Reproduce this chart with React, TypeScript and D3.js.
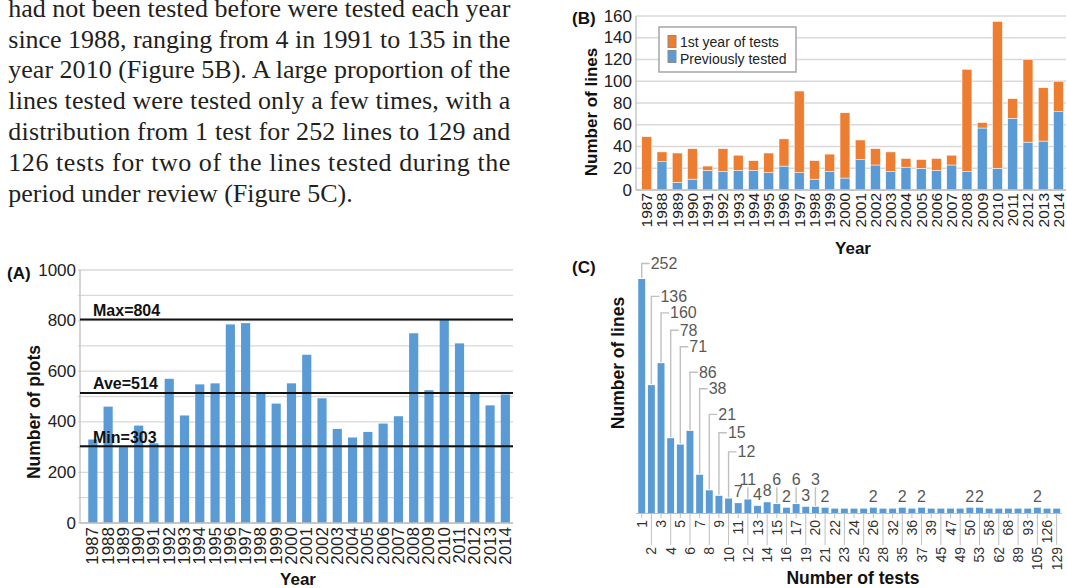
import React from 'react';
import * as d3 from 'd3';

// ---------- Paragraph text ----------
const paragraphLines = [
  'had not been tested before were tested each year',
  'since 1988, ranging from 4 in 1991 to 135 in the',
  'year 2010 (Figure 5B). A large proportion of the',
  'lines tested were tested only a few times, with a',
  'distribution from 1 test for 252 lines to 129 and',
  '126 tests for two of the lines tested during the',
  'period under review (Figure 5C).',
];

// ---------- Shared categories ----------
const years = [
  '1987', '1988', '1989', '1990', '1991', '1992', '1993', '1994', '1995', '1996',
  '1997', '1998', '1999', '2000', '2001', '2002', '2003', '2004', '2005', '2006',
  '2007', '2008', '2009', '2010', '2011', '2012', '2013', '2014',
];

// ---------- Panel A ----------
const plotsPerYear = [
  330, 460, 303, 385, 315, 570, 425, 548, 552, 785,
  790, 510, 472, 552, 665, 493, 372, 338, 360, 393,
  422, 750, 525, 804, 710, 515, 465, 508,
];
const refLabels = ['Max=804', 'Ave=514', 'Min=303'];
const refValues = [804, 514, 303];
const yTicksA = [0, 200, 400, 600, 800, 1000];

// ---------- Panel B ----------
const previouslyTested = [
  0, 26, 7, 10, 18, 17, 18, 18, 16, 22,
  16, 10, 17, 11, 28, 23, 17, 21, 20, 18,
  23, 17, 57, 20, 66, 44, 45, 72,
];
const firstYearOfTests = [
  49, 9, 27, 28, 4, 21, 14, 9, 18, 25,
  75, 17, 16, 60, 18, 15, 18, 8, 8, 11,
  9, 94, 5, 135, 18, 76, 49, 28,
];
const seriesNamesB = ['1st year of tests', 'Previously tested'];
const yTicksB = [0, 20, 40, 60, 80, 100, 120, 140, 160];

// ---------- Panel C ----------
const testCounts = [
  '1', '2', '3', '4', '5', '6', '7', '8', '9', '10', '11', '12', '13', '14', '15',
  '16', '17', '19', '20', '21', '22', '23', '24', '25', '26', '28', '32', '35', '36',
  '37', '39', '45', '47', '49', '50', '53', '58', '62', '68', '89', '93', '105', '126', '129',
];
const linesPerCount = [
  252, 136, 160, 78, 71, 86, 38, 21, 15, 12, 7, 11, 4, 8, 6,
  2, 6, 3, 3, 2, 1, 1, 1, 1, 2, 1, 1, 2, 1,
  2, 1, 1, 1, 1, 2, 2, 1, 1, 1, 1, 1, 2, 1, 1,
];
// callout label levels (in data units) for the first bars (hooked leaders)
const hookCalloutLevels = [269, 233, 215, 196, 178, 150, 132, 104, 84, 63];
// bars whose label is raised with a vertical leader
const raisedCalloutIdx = [11, 14, 16, 18];
const raisedCalloutLevel = 33;

const BLUE = '#5B9BD5';
const ORANGE = '#ED7D31';
const GRID = '#d9d9d9';
const AXIS = '#bfbfbf';
const SANS = '"Liberation Sans", Arial, Helvetica, sans-serif';
const SERIF = '"Liberation Serif", "Times New Roman", serif';

function PanelA() {
  const x = d3.scaleBand<string>().domain(years).range([85.2, 513]).paddingInner(0.4).paddingOuter(0.2);
  const y = d3.scaleLinear().domain([0, 1000]).range([523, 270]);
  const left = 80, right = 513;
  return (
    <g fontFamily={SANS}>
      {y.ticks(10).map((t) => (
        <line key={'g' + t} x1={left - 2} x2={right} y1={y(t)} y2={y(t)} stroke={GRID} strokeWidth={1.3} />
      ))}
      <line x1={left} x2={left} y1={y(1000)} y2={y(0)} stroke={AXIS} strokeWidth={1.3} />
      {plotsPerYear.map((v, i) => (
        <rect key={'b' + i} x={x(years[i])} y={y(v)} width={x.bandwidth()} height={y(0) - y(v)} fill={BLUE} />
      ))}
      <line x1={left} x2={right} y1={y(0)} y2={y(0)} stroke={AXIS} strokeWidth={1.5} />
      {refValues.map((v, i) => (
        <g key={'r' + i}>
          <line x1={left} x2={right} y1={y(v)} y2={y(v)} stroke="#111" strokeWidth={2} />
          <text x={93} y={y(v) - 3.5} fontSize={16} fontWeight="bold" fill="#111">{refLabels[i]}</text>
        </g>
      ))}
      {yTicksA.map((t) => (
        <text key={'t' + t} x={76} y={y(t)} textAnchor="end" dominantBaseline="central" fontSize={17} fill="#222">{t}</text>
      ))}
      {years.map((yr) => (
        <text key={'x' + yr} transform={`translate(${x(yr)! + x.bandwidth() / 2},${527}) rotate(-90)`} textAnchor="end" dominantBaseline="central" fontSize={17} fill="#222">{yr}</text>
      ))}
      <text transform={`translate(34,412) rotate(-90)`} textAnchor="middle" dominantBaseline="central" fontSize={17.5} fontWeight="bold" fill="#111">Number of plots</text>
      <text x={298} y={584.5} textAnchor="middle" fontSize={17} fontWeight="bold" fill="#111">Year</text>
      <text x={7} y={279} fontSize={17} fontWeight="bold" fill="#111">(A)</text>
    </g>
  );
}

function PanelB() {
  const x = d3.scaleBand<string>().domain(years).range([639.1, 1066.1]).paddingInner(0.35).paddingOuter(0.175);
  const y = d3.scaleLinear().domain([0, 160]).range([190, 16]);
  const left = 636, right = 1066;
  const table = years.map((yr, i) => ({ year: yr, prev: previouslyTested[i], first: firstYearOfTests[i] }));
  const stack = d3.stack<any>().keys(['prev', 'first'])(table);
  const colors: Record<string, string> = { prev: BLUE, first: ORANGE };
  return (
    <g fontFamily={SANS}>
      {yTicksB.map((t) => (
        <line key={'g' + t} x1={left} x2={right} y1={y(t)} y2={y(t)} stroke={GRID} strokeWidth={1.3} />
      ))}
      <line x1={left} x2={left} y1={y(160)} y2={y(0)} stroke={AXIS} strokeWidth={1.3} />
      {stack.map((s) => (
        <g key={s.key}>
          {s.map((d, i) => (
            d[1] > d[0] ? (
              <rect key={i} x={x(years[i])} y={y(d[1])} width={x.bandwidth()} height={y(d[0]) - y(d[1])} fill={colors[s.key]} stroke="#fff" strokeWidth={0.5} />
            ) : null
          ))}
        </g>
      ))}
      <line x1={left} x2={right} y1={y(0)} y2={y(0)} stroke={AXIS} strokeWidth={1.5} />
      {yTicksB.map((t) => (
        <text key={'t' + t} x={632} y={y(t)} textAnchor="end" dominantBaseline="central" fontSize={17} fill="#222">{t}</text>
      ))}
      {years.map((yr) => (
        <text key={'x' + yr} transform={`translate(${x(yr)! + x.bandwidth() / 2},${193}) rotate(-90)`} textAnchor="end" dominantBaseline="central" fontSize={15.5} fill="#222">{yr}</text>
      ))}
      {/* legend */}
      <rect x={659} y={27} width={137} height={45} fill="#fff" stroke="#a6a6a6" strokeWidth={1.5} />
      {seriesNamesB.map((name, i) => (
        <g key={name}>
          <rect x={668} y={35.5 + i * 15} width={8} height={12} fill={i === 0 ? ORANGE : BLUE} stroke="#8c8c8c" strokeWidth={1} />
          <text x={680} y={41.8 + i * 17.5} dominantBaseline="central" fontSize={14} fill="#222">{name}</text>
        </g>
      ))}
      <text transform={`translate(591.5,112) rotate(-90)`} textAnchor="middle" dominantBaseline="central" fontSize={17} fontWeight="bold" fill="#111">Number of lines</text>
      <text x={853} y={254} textAnchor="middle" fontSize={17} fontWeight="bold" fill="#111">Year</text>
      <text x={572} y={24} fontSize={17} fontWeight="bold" fill="#111">(B)</text>
    </g>
  );
}

function PanelC() {
  const x = d3.scaleBand<string>().domain(testCounts).range([636.9, 1061.5]).paddingInner(0.28).paddingOuter(0.14);
  const y = d3.scaleLinear().domain([-3.8, 252]).range([513, 279]);
  const base = y(-3.8);
  const cx = (i: number) => x(testCounts[i])! + x.bandwidth() / 2;
  const labelColor = '#595959';
  const leader = '#c0c0c0';
  return (
    <g fontFamily={SANS}>
      {linesPerCount.map((v, i) => (
        <rect key={'b' + i} x={x(testCounts[i])} y={y(v)} width={x.bandwidth()} height={base - y(v)} fill={BLUE} />
      ))}
      <line x1={636} x2={1062} y1={base + 0.5} y2={base + 0.5} stroke={AXIS} strokeWidth={1.2} />
      {testCounts.map((c, i) => {
        const long = i % 2 === 1;
        const end = long ? base + 32 : base + 5;
        return (
          <g key={'x' + c}>
            <line x1={cx(i)} x2={cx(i)} y1={base} y2={end} stroke={AXIS} strokeWidth={1} />
            <text transform={`translate(${cx(i)},${end + 2}) rotate(-90)`} textAnchor="end" dominantBaseline="central" fontSize={14} fill="#333">{c}</text>
          </g>
        );
      })}
      {/* hooked callouts */}
      {hookCalloutLevels.map((lvl, i) => {
        const ly = y(lvl);
        return (
          <g key={'h' + i}>
            <polyline points={`${cx(i)},${y(linesPerCount[i]) - 1} ${cx(i)},${ly} ${cx(i) + 8},${ly}`} fill="none" stroke={leader} strokeWidth={1.4} />
            <text x={cx(i) + 9} y={ly} dominantBaseline="central" fontSize={16} fill={labelColor}>{linesPerCount[i]}</text>
          </g>
        );
      })}
      {/* other labels */}
      {linesPerCount.map((v, i) => {
        if (i < hookCalloutLevels.length || v < 2) return null;
        if (raisedCalloutIdx.includes(i)) {
          const ly = y(raisedCalloutLevel);
          return (
            <g key={'l' + i}>
              <line x1={cx(i)} x2={cx(i)} y1={y(v) - 1} y2={ly + 8} stroke={leader} strokeWidth={1.4} />
              <text x={cx(i)} y={ly} textAnchor="middle" dominantBaseline="central" fontSize={16} fill={labelColor}>{v}</text>
            </g>
          );
        }
        return (
          <text key={'l' + i} x={cx(i)} y={y(v) - 6} textAnchor="middle" fontSize={16} fill={labelColor}>{v}</text>
        );
      })}
      <text transform={`translate(618,363) rotate(-90)`} textAnchor="middle" dominantBaseline="central" fontSize={17.5} fontWeight="bold" fill="#111">Number of lines</text>
      <text x={853} y={583.5} textAnchor="middle" fontSize={17.5} fontWeight="bold" fill="#111">Number of tests</text>
      <text x={572} y={273} fontSize={17} fontWeight="bold" fill="#111">(C)</text>
    </g>
  );
}

function Paragraph() {
  const lineHeight = 30.8;
  const first = 16.7;
  return (
    <g fontFamily={SERIF} fontSize={26} fill="#231f20">
      {paragraphLines.map((l, i) => (
        i < paragraphLines.length - 1 ? (
          <text key={i} x={8.3} y={first + i * lineHeight} textLength={502} lengthAdjust="spacing">{l}</text>
        ) : (
          <text key={i} x={8.3} y={first + i * lineHeight}>{l}</text>
        )
      ))}
    </g>
  );
}

export default function App() {
  return (
    <div style={{ position: 'absolute', left: 0, top: 0 }}>
      <svg width={1067} height={588} style={{ display: 'block', background: '#fff' }}>
        <rect width={1067} height={588} fill="#fff" />
        <Paragraph />
        <PanelA />
        <PanelB />
        <PanelC />
      </svg>
    </div>
  );
}
